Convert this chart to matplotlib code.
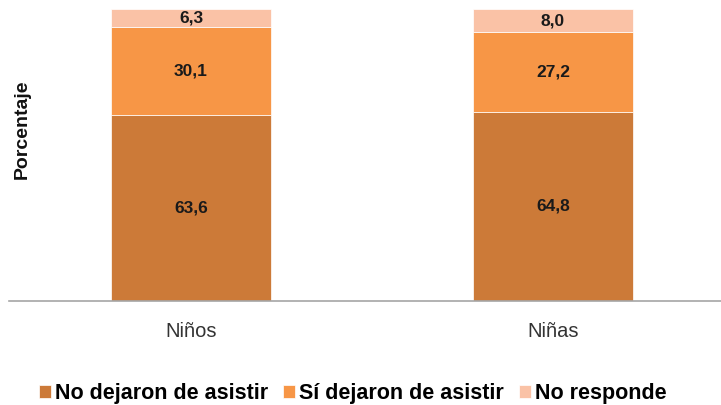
import matplotlib
matplotlib.use("Agg")
import matplotlib.pyplot as plt
import numpy as np

plt.rcParams['font.family'] = ['Liberation Sans', 'DejaVu Sans']

categories = ["Niños", "Niñas"]
series_names = ["No dejaron de asistir", "Sí dejaron de asistir", "No responde"]
no_dejaron = [63.6, 64.8]
si_dejaron = [30.1, 27.2]
no_responde = [6.3, 8.0]
colors = ["#CC7A38", "#F79646", "#FAC2A6"]

fig = plt.figure(figsize=(7.21, 4.05), dpi=100)
ax = fig.add_axes([9/721, 1 - 301/405, 1 - 9/721, (301 - 9)/405])

x = np.arange(len(categories))
bottom = np.zeros(len(categories))
for vals, name, col in zip([no_dejaron, si_dejaron, no_responde], series_names, colors):
    ax.bar(x, vals, width=0.442, bottom=bottom, color=col, label=name,
           edgecolor="white", linewidth=0.5)
    for xi, b, v in zip(x, bottom, vals):
        ax.text(xi, b + v / 2, f"{v:.1f}".replace(".", ","), ha="center", va="center",
                fontsize=12.5, fontweight="bold", color="#1a1a1a")
    bottom += np.array(vals)

ax.set_xlim(-0.503, 1.464)
ax.set_ylim(0, 100)
ax.set_yticks([])
ax.set_xticks(x)
ax.set_xticklabels(categories, fontsize=14.5, color="#333333")
ax.tick_params(axis="x", length=0, pad=15)
for s in ["top", "right", "left"]:
    ax.spines[s].set_visible(False)
ax.spines["bottom"].set_color("#A6A6A6")
ax.spines["bottom"].set_linewidth(1.2)

fig.text(22/721, 1 - 129/405, "Porcentaje", rotation=90, ha="center", va="center",
         fontsize=14, fontweight="bold", color="#111111")

fig.legend(loc="center", bbox_to_anchor=(353/721, 1 - 394/405), ncol=3,
           frameon=False, prop={"size": 15.5, "weight": "bold"},
           handlelength=0.55, handleheight=0.55, handletextpad=0.2,
           columnspacing=0.7, borderpad=0)

fig.savefig("out.png", dpi=100)
